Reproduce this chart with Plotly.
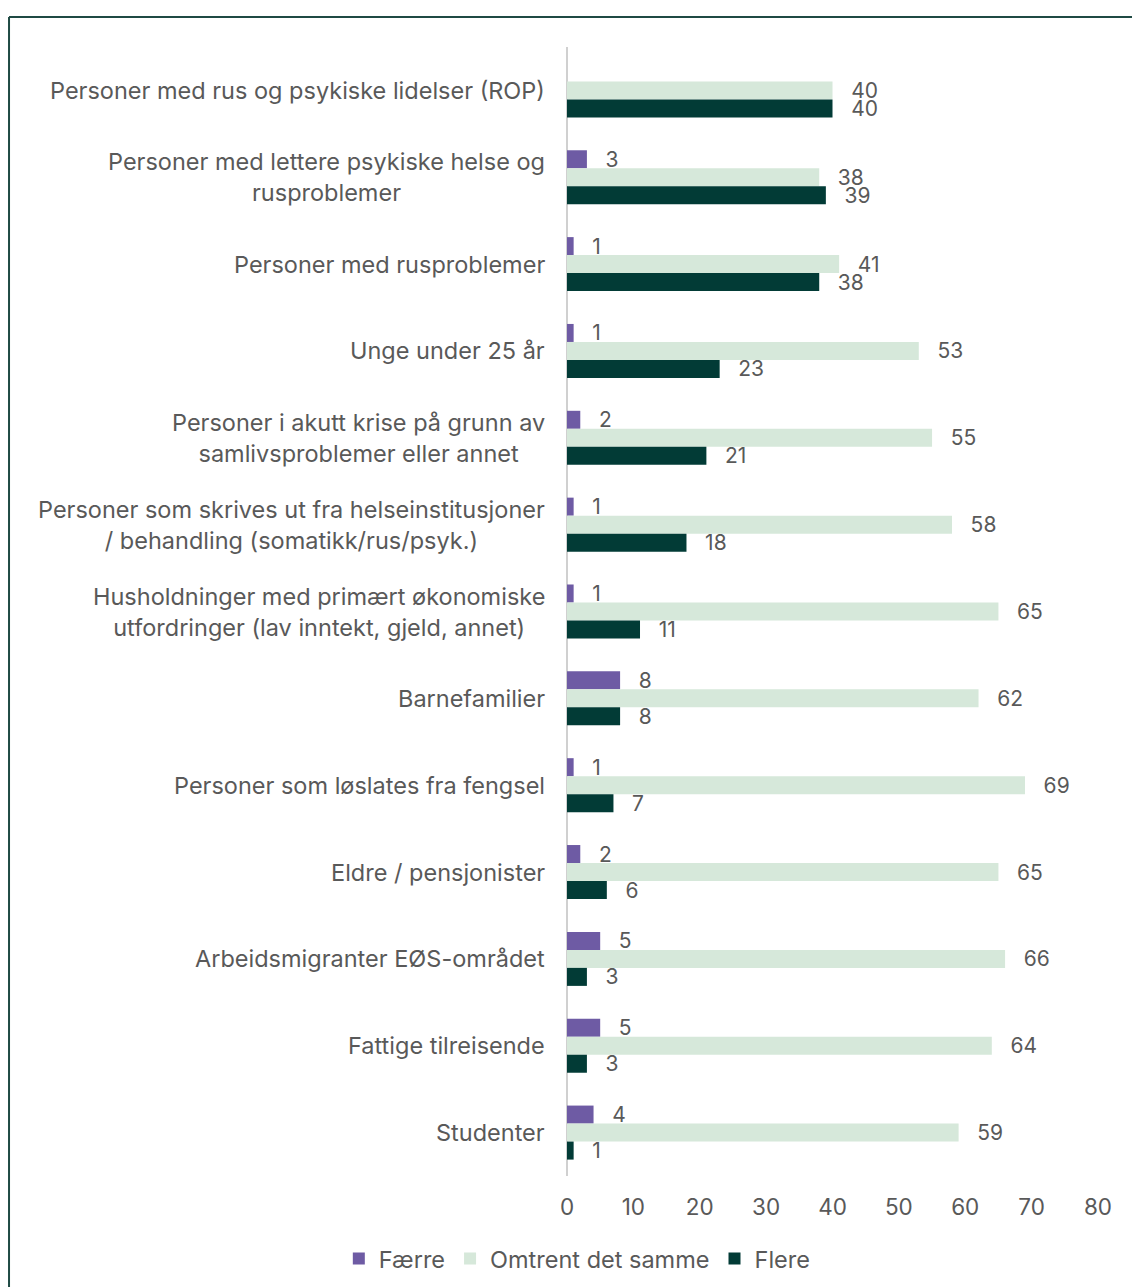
import plotly.graph_objects as go

# Target groups (top to bottom)
categories = [
    "Personer med rus og psykiske lidelser (ROP)",
    "Personer med lettere psykiske helse og<br>rusproblemer",
    "Personer med rusproblemer",
    "Unge under 25 år",
    "Personer i akutt krise på grunn av<br>samlivsproblemer eller annet",
    "Personer som skrives ut fra helseinstitusjoner<br>/ behandling (somatikk/rus/psyk.)",
    "Husholdninger med primært økonomiske<br>utfordringer (lav inntekt, gjeld, annet)",
    "Barnefamilier",
    "Personer som løslates fra fengsel",
    "Eldre / pensjonister",
    "Arbeidsmigranter EØS-området",
    "Fattige tilreisende",
    "Studenter",
]

faerre = [None, 3, 1, 1, 2, 1, 1, 8, 1, 2, 5, 5, 4]
omtrent = [40, 38, 41, 53, 55, 58, 65, 62, 69, 65, 66, 64, 59]
flere = [40, 39, 38, 23, 21, 18, 11, 8, 7, 6, 3, 3, 1]

series_names = ["Færre", "Omtrent det samme", "Flere"]
series_values = [faerre, omtrent, flere]
series_colors = ["#6e5ba4", "#d6e8da", "#023b36"]

x_ticks = [0, 10, 20, 30, 40, 50, 60, 70, 80]

TEXT_COLOR = "#595959"
FONT = "Inter, Roboto, 'Open Sans', sans-serif"

fig = go.Figure()
for name, vals, color in zip(series_names, series_values, series_colors):
    fig.add_trace(go.Bar(
        name=name,
        y=categories,
        x=vals,
        orientation="h",
        marker=dict(color=color, line=dict(width=0)),
        texttemplate="\u00a0\u00a0\u2009%{x}",
        textposition="outside",
        constraintext="none",
        cliponaxis=False,
        textfont=dict(size=21, color=TEXT_COLOR, family=FONT),
    ))

# Category labels, centred line by line and right-aligned to the axis
for cat in categories:
    fig.add_annotation(
        x=0, y=cat, xref="x", yref="y",
        xanchor="right", yanchor="middle", align="center",
        xshift=-20, showarrow=False,
        text=cat,
        font=dict(size=23.5, color=TEXT_COLOR, family=FONT),
    )

# Frame around the chart
frame_color = "#1f4a44"
fig.add_shape(type="line", xref="paper", yref="paper",
              x0=-1.0508, x1=-1.0508, y0=1.0266, y1=-0.2,
              line=dict(color=frame_color, width=2))
fig.add_shape(type="line", xref="paper", yref="paper",
              x0=-1.0508, x1=1.2, y0=1.0266, y1=1.0266,
              line=dict(color=frame_color, width=2))

fig.update_layout(
    width=1132,
    height=1287,
    margin=dict(l=567, r=34, t=47, b=111),
    barmode="group",
    bargap=0.378,
    bargroupgap=0,
    plot_bgcolor="white",
    paper_bgcolor="white",
    font=dict(family=FONT, color=TEXT_COLOR),
    showlegend=True,
    legend=dict(
        orientation="h",
        xref="container", yref="container",
        x=0.51, xanchor="center",
        y=0.022, yanchor="middle",
        font=dict(size=23.5, color=TEXT_COLOR, family=FONT),
        itemwidth=30,
        traceorder="normal",
    ),
    xaxis=dict(
        range=[0, 80],
        tickvals=x_ticks,
        ticktext=[str(v) for v in x_ticks],
        showgrid=False,
        zeroline=True,
        zerolinecolor="#d0d0d0",
        zerolinewidth=2,
        showline=False,
        ticks="",
        ticklabelstandoff=15,
        tickfont=dict(size=22.5, color=TEXT_COLOR, family=FONT),
        fixedrange=True,
    ),
    yaxis=dict(
        categoryorder="array",
        categoryarray=categories,
        autorange="reversed",
        showticklabels=False,
        showgrid=False,
        zeroline=False,
        showline=False,
        ticks="",
    ),
)

fig.write_html("out.html")
